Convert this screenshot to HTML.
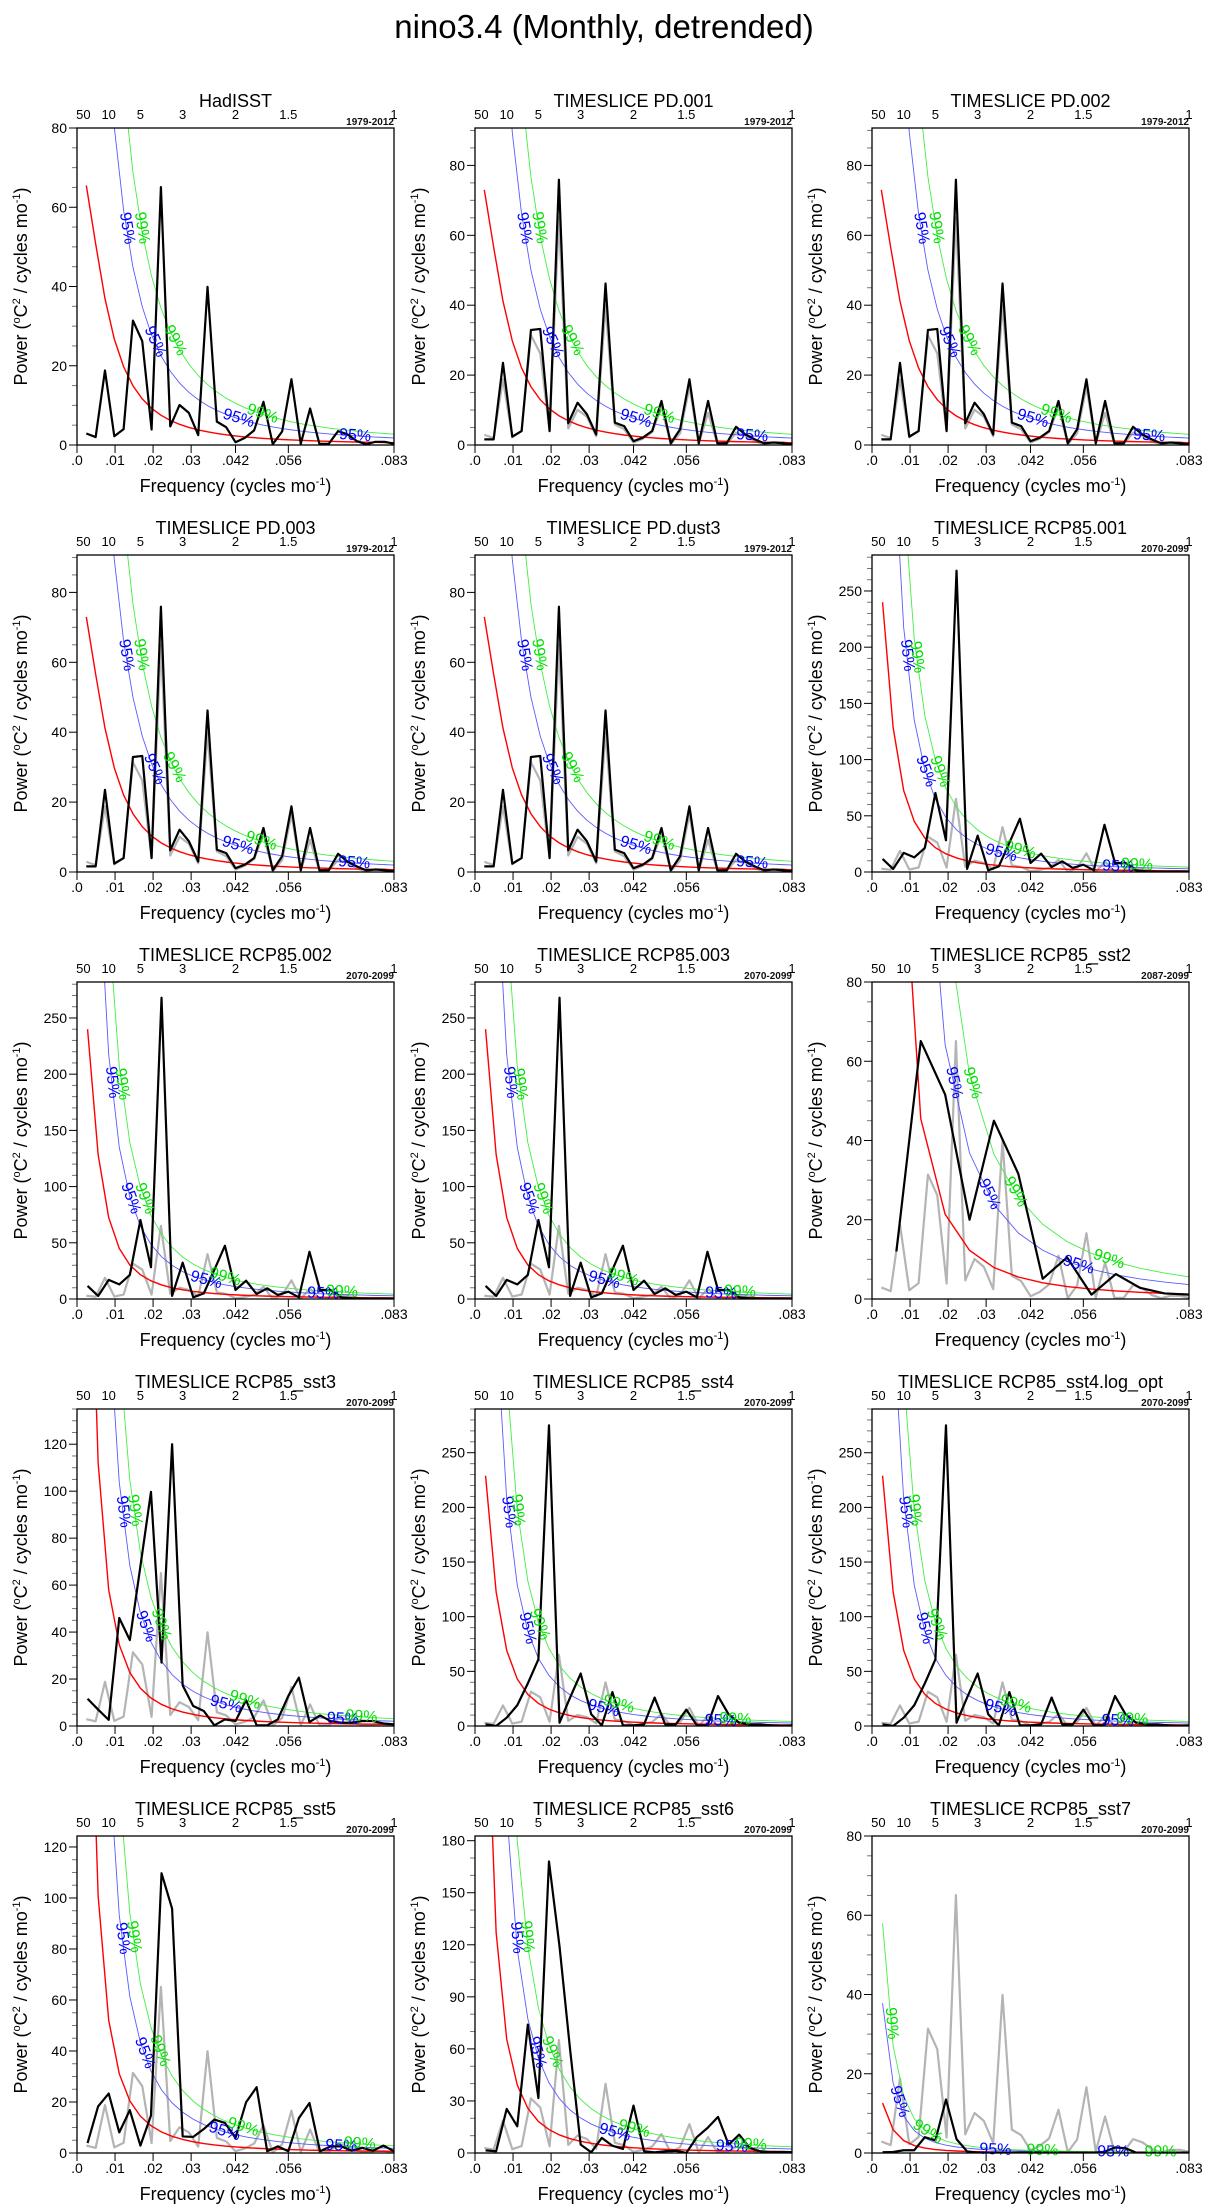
<!DOCTYPE html>
<html><head><meta charset="utf-8">
<style>
html,body{margin:0;padding:0;background:#fff;}
svg{display:block;font-family:"Liberation Sans",sans-serif;}
</style></head>
<body>
<svg id="fig" width="1209" height="2210" viewBox="0 0 1209 2210" xmlns="http://www.w3.org/2000/svg">
<rect x="0" y="0" width="1209" height="2210" fill="#fff"/>
<text x="604" y="38" font-size="33" text-anchor="middle" fill="#000">nino3.4 (Monthly, detrended)</text>
</svg>
<script>
// ---- data (spectral power, °C^2 / cycles mo^-1) ----
const hadisst = [2.9,2.0,18.8,2.2,4.0,31.4,26.2,3.9,65.1,4.7,10.1,8.1,2.5,39.9,5.9,4.5,0.7,1.8,3.7,10.9,0.2,3.4,16.6,0.3,9.2,0.3,0.3,3.5,2.7,1.0,0.2,0.8,0.8,0.3];
const pd = [1.6,1.6,23.5,2.4,4.0,32.9,33.2,4.0,75.9,6.2,12.1,8.8,3.0,46.2,6.4,5.4,1.1,2.1,4.0,12.6,0.5,4.5,18.8,0.5,12.6,0.5,0.5,5.2,3.0,1.6,0.5,0.7,0.5,0.2];
const rcp001 = [11.6,2.7,17,13,21.4,70.3,28.2,268,2.7,32.3,1.5,5,26,47.4,8,16.3,4.4,9.5,3.6,6.5,1.5,42,8,8,1.5,0.6,0.3,0.3,0.3,0.3];
const sst2 = [12,65.1,51.6,20,45,31.6,5.1,10.5,1.1,6.3,2.8,1.4,1.1];
const sst3 = [11.6,7,2.6,46,36.6,68,99.7,27,120,17.3,8.5,6.4,0.3,2.8,2.1,11,0.3,0.3,2.8,12.8,20.6,1.7,4.5,2.1,1.4,1.4,2.1,2.1,1.1,0.7];
const sst4 = [1.5,0,7.6,19,39,61,275,3,26,48,10.7,0.6,31,0.6,0.6,1.5,26,1.5,1.5,15,0.6,0.6,27.4,10.7,3,1.5,1.5,0.6,0,0.6];
const sst5 = [3.9,18.3,23.3,8.1,16.8,2.9,14.7,109.7,95.8,6.5,6.3,9.4,13.1,11.8,5.9,19.9,25.8,0.7,2.6,0.7,13.7,19.6,0.7,2.6,2.6,0.9,2,0.9,2.9,0.7];
const sst6 = [1.5,1,25.4,15.4,74,31.7,168,119,59.6,4.8,0.4,8.7,4.2,2.3,27.3,1,0.4,1,1.3,0,9.2,14.4,20.8,4.8,10.6,2.9,1,0.5,0.5,0.5];
const sst7 = [0.2,0.25,0.7,0.7,4,3.2,13.5,3.5,0.4,0.1,0.1,0.1,0.1,0.1,0.1,0.1,0.1,0.1,0.1,0.1,0.1,0.3,1.4,1.2,0.1,0.1,0.1,0.1,0.1,0.1];
const months = {hadisst:408, pd:408, rcp001:360, sst2:156, sst3:360, sst4:360, sst5:360, sst6:360, sst7:360};
const panelTitles = ["HadISST","TIMESLICE PD.001","TIMESLICE PD.002","TIMESLICE PD.003","TIMESLICE PD.dust3","TIMESLICE RCP85.001","TIMESLICE RCP85.002","TIMESLICE RCP85.003","TIMESLICE RCP85_sst2","TIMESLICE RCP85_sst3","TIMESLICE RCP85_sst4","TIMESLICE RCP85_sst4.log_opt","TIMESLICE RCP85_sst5","TIMESLICE RCP85_sst6","TIMESLICE RCP85_sst7"];
const panelSeries = ["hadisst","pd","pd","pd","pd","rcp001","rcp001","rcp001","sst2","sst3","sst4","sst4","sst5","sst6","sst7"];
const panelYears = ["1979-2012","1979-2012","1979-2012","1979-2012","1979-2012","2070-2099","2070-2099","2070-2099","2087-2099","2070-2099","2070-2099","2070-2099","2070-2099","2070-2099","2070-2099"];
const panelYMax = [80,90.7,90.7,90.7,90.7,282,282,282,80,135,290,290,124.3,182.7,80];
const panelYMajor = [20,20,20,20,20,50,50,50,20,20,50,50,20,30,20];
const panelYMinor = [5,5,5,5,5,10,10,10,5,5,10,10,5,10,5];
const redAmp = [65.5,73,73,73,73,240,240,240,141,256,229,229,230,290,12.6];
const redLag = [0.954,0.954,0.954,0.954,0.954,0.973,0.973,0.973,0.974,0.98,0.973,0.973,0.98,0.98,0.978];
const conf95 = 3.0, conf99 = 4.6;
const xTickVals = [0,0.01,0.02,0.03,1/24,1/18,1/12];
const xTickLabels = [".0",".01",".02",".03",".042",".056",".083"];
const periodVals = [50,10,5,3,2,1.5,1];
const seriesData = {hadisst, pd, rcp001, sst2, sst3, sst4, sst5, sst6, sst7};

const NS = "http://www.w3.org/2000/svg";
const svg = document.getElementById("fig");
const W = 317, H = 317, FMAX = 1/12;
const colX = [77,475,872];
const rowY = [128,555,982,1409,1836];
function mk(tag, attrs, parent){
  const e = document.createElementNS(NS, tag);
  for (const k in attrs) e.setAttribute(k, attrs[k]);
  (parent||svg).appendChild(e);
  return e;
}

panelTitles.forEach((title, p) => {
  const col = p % 3, row = Math.floor(p / 3);
  const x0 = colX[col], y0 = rowY[row];
  const yMax = panelYMax[p];
  const xs = f => x0 + f / FMAX * W;
  const ys = v => y0 + H - v / yMax * H;
  const g = mk("g", {});
  
  
  const clipId = "clip" + p;
  const cp = mk("clipPath", {id: clipId}, g);
  mk("rect", {x: x0, y: y0, width: W, height: H}, cp);

  const t = mk("text", {x: x0 + W/2, y: y0 - 21, "font-size": 18, "text-anchor": "middle"}, g);
  t.textContent = title;
  
  

  periodVals.forEach(per => {
    const lx = xs(1 / (12 * per));
    const tl = mk("text", {x: lx, y: y0 - 9, "font-size": 13, "text-anchor": "middle"}, g);
    tl.textContent = String(per);
    
    
  });
  const yr = mk("text", {x: x0 + W, y: y0 - 3, "font-size": 10, "text-anchor": "end", "font-weight": "bold", fill: "#111"}, g);
  yr.textContent = panelYears[p];
  
  

  for (let v = 0; v <= yMax + 1e-6; v += panelYMinor[p]) {
    const major = Math.abs(v / panelYMajor[p] - Math.round(v / panelYMajor[p])) < 1e-6;
    const tk = mk("line", {x1: x0 - (major ? 8 : 5), x2: x0, y1: ys(v), y2: ys(v), stroke: major ? "#000" : "#777", "stroke-width": 1}, g);
    
    
    if (major) {
      const tl = mk("text", {x: x0 - 10, y: ys(v) + 5, "font-size": 14, "text-anchor": "end"}, g);
      tl.textContent = String(Math.round(v));
      
      
    }
  }
  xTickVals.forEach((f, i) => {
    const tk = mk("line", {x1: xs(f), x2: xs(f), y1: y0 + H, y2: y0 + H + 8, stroke: "#000", "stroke-width": 1}, g);
    
    
    const tl = mk("text", {x: xs(f), y: y0 + H + 20, "font-size": 14, "text-anchor": "middle"}, g);
    tl.textContent = xTickLabels[i];
    
    
  });
  const xt = mk("text", {x: x0 + W/2, y: y0 + H + 47, "font-size": 18, "text-anchor": "middle"}, g);
  xt.innerHTML = 'Frequency (cycles mo<tspan dy="-7" font-size="11">-1</tspan><tspan dy="7">)</tspan>';
  
  
  const yt = mk("text", {x: 0, y: 0, "font-size": 18, "text-anchor": "middle", transform: `translate(${x0 - 50},${y0 + H/2}) rotate(-90)`}, g);
  yt.innerHTML = 'Power (<tspan dy="-7" font-size="11">o</tspan><tspan dy="7">C</tspan><tspan dy="-7" font-size="11">2</tspan><tspan dy="7"> / cycles mo</tspan><tspan dy="-7" font-size="11">-1</tspan><tspan dy="7">)</tspan>';
  
  

  const clipG = mk("g", {"clip-path": `url(#${clipId})`}, g);
  const key = panelSeries[p];
  const vals = seriesData[key];
  const M = months[key];
  const freqs = vals.map((_, i) => (i + 1) / M);
  const rho = redLag[p];
  const gfun = f => 1 + rho*rho - 2*rho*Math.cos(2*Math.PI*f);
  const red = freqs.map(f => redAmp[p] * gfun(freqs[0]) / gfun(f));
  const toPts = arr => arr.map((v, i) => xs(freqs[i]).toFixed(2) + "," + ys(v).toFixed(2)).join(" ");

  if (key !== "hadisst") {
    const hf = hadisst.map((_, i) => (i + 1) / months.hadisst);
    const gl = mk("polyline", {points: hadisst.map((v, i) => xs(hf[i]).toFixed(2) + "," + ys(v).toFixed(2)).join(" "), fill: "none", stroke: "#b4b4b4", "stroke-width": 2.2, "stroke-linejoin": "round"}, clipG);
    
    
  }
  const rl = mk("polyline", {points: toPts(red), fill: "none", stroke: "#ff0000", "stroke-width": 1.4}, clipG);
  
  
  const c95 = red.map(v => v * conf95);
  const c99 = red.map(v => v * conf99);
  const bl = mk("polyline", {points: toPts(c95), fill: "none", stroke: "#5a5aff", "stroke-width": 0.9}, clipG);
  
  
  const gr = mk("polyline", {points: toPts(c99), fill: "none", stroke: "#44ee44", "stroke-width": 0.9}, clipG);
  
  
  const sl = mk("polyline", {points: toPts(vals), fill: "none", stroke: "#000", "stroke-width": 2.2, "stroke-linejoin": "round"}, clipG);
  
  

  function labelCurve(arr, txt, color, nm) {
    const pts = [];
    for (let i = 0; i < arr.length - 1; i++) {
      const xa = xs(freqs[i]), ya = ys(arr[i]), xb = xs(freqs[i+1]), yb = ys(arr[i+1]);
      for (let s = 0; s < 60; s++) {
        const u = s / 60;
        const px = xa + (xb - xa) * u, py = ya + (yb - ya) * u;
        if (py >= y0 && py <= y0 + H) pts.push([px, py]);
      }
    }
    let acc = 0, next = 100;
    for (let i = 1; i < pts.length; i++) {
      acc += Math.hypot(pts[i][0] - pts[i-1][0], pts[i][1] - pts[i-1][1]);
      if (acc >= next) {
        const a = pts[Math.max(0, i - 3)], b = pts[Math.min(pts.length - 1, i + 3)];
        const ang = Math.atan2(b[1] - a[1], b[0] - a[0]) * 180 / Math.PI;
        const [px, py] = pts[i];
        if (px < x0 + W - 22 && px > x0 + 8 && py > y0 + 12) {
          const lt = mk("text", {x: 0, y: 0, "font-size": 16, fill: color, "text-anchor": "middle", "dominant-baseline": "middle", transform: `translate(${px.toFixed(1)},${py.toFixed(1)}) rotate(${ang.toFixed(1)})`}, g);
          lt.textContent = txt;
          
          
        }
        next += 118;
      }
    }
  }
  labelCurve(c95, "95%", "#0000ff", 'conf-95-label');
  labelCurve(c99, "99%", "#00e000", 'conf-99-label');

  const fr = mk("rect", {x: x0, y: y0, width: W, height: H, fill: "none", stroke: "#000", "stroke-width": 1.3}, g);
  
  
});
</script>
</body></html>
